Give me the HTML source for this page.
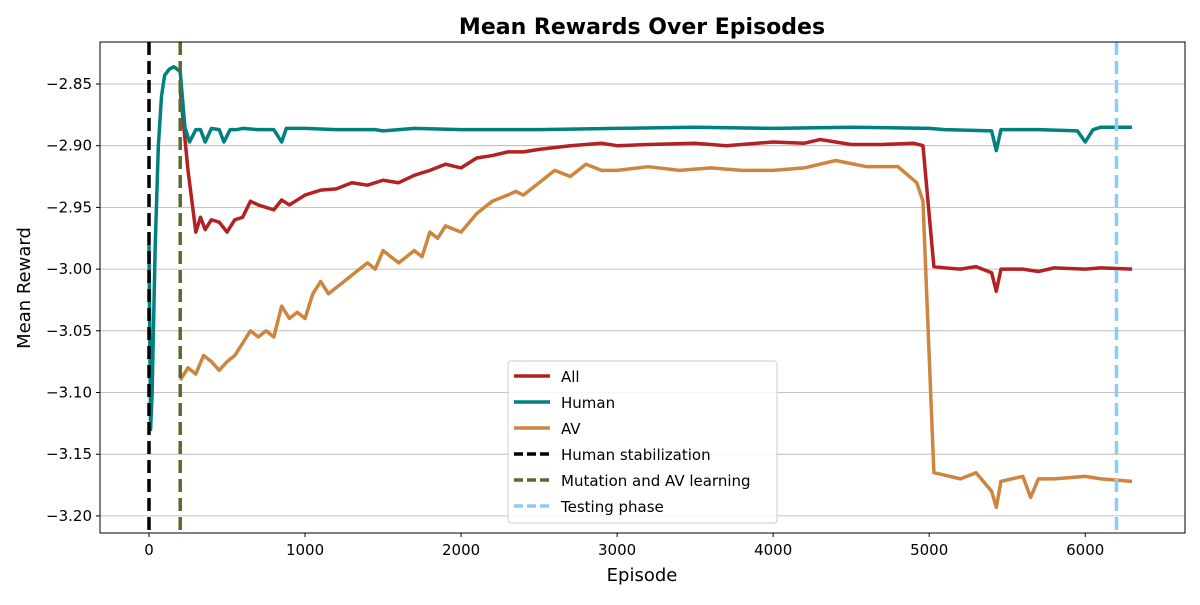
<!DOCTYPE html>
<html><head><meta charset="utf-8"><style>
body{margin:0;background:#fff;font-family:"Liberation Sans","DejaVu Sans",sans-serif}
svg text{font-family:"DejaVu Sans","Liberation Sans",sans-serif}
</style></head><body>
<svg id="chart" width="1200" height="600" xmlns="http://www.w3.org/2000/svg"></svg>
<script>
const xTicks=[0,1000,2000,3000,4000,5000,6000];
const yTicks=[-2.85,-2.90,-2.95,-3.00,-3.05,-3.10,-3.15,-3.20];
const humanEp=[0,10,20,40,60,80,100,130,160,200,230,260,300,330,360,400,450,480,520,560,600,700,800,850,880,950,1000,1200,1400,1450,1500,1700,2000,2500,3000,3500,4000,4500,5000,5100,5400,5430,5460,5500,5700,5950,6000,6050,6100,6300];
const humanVal=[-2.98,-3.13,-3.10,-2.98,-2.90,-2.86,-2.843,-2.838,-2.836,-2.84,-2.885,-2.897,-2.887,-2.887,-2.897,-2.886,-2.887,-2.897,-2.887,-2.887,-2.886,-2.887,-2.887,-2.897,-2.886,-2.886,-2.886,-2.887,-2.887,-2.887,-2.888,-2.886,-2.887,-2.887,-2.886,-2.885,-2.886,-2.885,-2.886,-2.887,-2.888,-2.904,-2.887,-2.887,-2.887,-2.888,-2.897,-2.887,-2.885,-2.885];
const allEp=[200,250,300,330,360,400,450,500,550,600,650,700,800,850,900,1000,1100,1200,1300,1400,1500,1600,1700,1800,1900,2000,2100,2200,2300,2400,2500,2700,2900,3000,3200,3500,3700,4000,4200,4300,4500,4700,4900,4960,5030,5100,5200,5300,5400,5430,5460,5600,5700,5800,6000,6100,6300];
const allVal=[-2.855,-2.92,-2.97,-2.958,-2.968,-2.96,-2.962,-2.97,-2.96,-2.958,-2.945,-2.948,-2.952,-2.944,-2.948,-2.94,-2.936,-2.935,-2.93,-2.932,-2.928,-2.93,-2.924,-2.92,-2.915,-2.918,-2.91,-2.908,-2.905,-2.905,-2.903,-2.900,-2.898,-2.900,-2.899,-2.898,-2.900,-2.897,-2.898,-2.895,-2.899,-2.899,-2.898,-2.900,-2.998,-2.999,-3.000,-2.998,-3.003,-3.018,-3.00,-3.00,-3.002,-2.999,-3.000,-2.999,-3.000];
const avEp=[200,250,300,350,400,450,500,550,600,650,700,750,800,850,900,950,1000,1050,1100,1150,1200,1300,1400,1450,1500,1600,1700,1750,1800,1850,1900,2000,2100,2200,2300,2350,2400,2500,2600,2700,2800,2900,3000,3200,3400,3600,3800,4000,4200,4400,4600,4800,4920,4960,5030,5100,5200,5300,5400,5430,5460,5600,5650,5700,5800,6000,6100,6300];
const avVal=[-3.09,-3.08,-3.085,-3.07,-3.075,-3.082,-3.075,-3.07,-3.06,-3.05,-3.055,-3.05,-3.055,-3.03,-3.04,-3.035,-3.04,-3.02,-3.01,-3.02,-3.015,-3.005,-2.995,-3.00,-2.985,-2.995,-2.985,-2.99,-2.97,-2.975,-2.965,-2.97,-2.955,-2.945,-2.94,-2.937,-2.94,-2.93,-2.92,-2.925,-2.915,-2.92,-2.92,-2.917,-2.92,-2.918,-2.92,-2.92,-2.918,-2.912,-2.917,-2.917,-2.93,-2.945,-3.165,-3.167,-3.17,-3.165,-3.18,-3.193,-3.172,-3.168,-3.185,-3.17,-3.17,-3.168,-3.17,-3.172];
const L=100,R=1185,T=42,B=533;
const X=v=>149+v*0.15604;
const Y=v=>84+(-2.85-v)*1234;
const svg=document.getElementById('chart');const NS='http://www.w3.org/2000/svg';
function el(t,a,txt){const e=document.createElementNS(NS,t);for(const k in a)e.setAttribute(k,a[k]);if(txt!==undefined)e.textContent=txt;svg.appendChild(e);return e;}
for(const t of yTicks){
const g=el('line',{x1:L,x2:R,y1:Y(t),y2:Y(t),stroke:'#b0b0b0','stroke-width':0.8});


el('line',{x1:L-4,x2:L,y1:Y(t),y2:Y(t),stroke:'#000'});
const lb=el('text',{x:L-8,y:Y(t)+5,'text-anchor':'end','font-size':15},t.toFixed(2).replace('-','\u2212'));


}
for(const t of xTicks){
el('line',{x1:X(t),x2:X(t),y1:B,y2:B+4,stroke:'#000'});
const lb=el('text',{x:X(t),y:B+22,'text-anchor':'middle','font-size':15},t);


}
function line(ep,val,color,name){
const p=el('polyline',{points:ep.map((e,i)=>X(e)+','+Y(val[i])).join(' '),fill:'none',stroke:color,'stroke-width':3.5,'stroke-linejoin':'round'});


}
line(allEp,allVal,'#b22222','series-all');
line(humanEp,humanVal,'#008080','series-human');
line(avEp,avVal,'#cd853f','series-av');
function vline(x,color,name){
const v=el('line',{x1:X(x),x2:X(x),y1:T,y2:B,stroke:color,'stroke-width':3.5,'stroke-dasharray':'13,6'});


}
vline(0,'#000','human-stabilization-line');
vline(200,'#556b2f','mutation-line');
vline(6200,'#87cefa','testing-phase-line');
const f=el('rect',{x:L,y:T,width:R-L,height:B-T,fill:'none',stroke:'#000','stroke-width':1});


const tt=el('text',{x:642,y:34,'text-anchor':'middle','font-size':22,'font-weight':'bold'},'Mean Rewards Over Episodes');


const xt=el('text',{x:642,y:581,'text-anchor':'middle','font-size':18},'Episode');


const yt=el('text',{x:30,y:288,'text-anchor':'middle','font-size':18,transform:'rotate(-90 30 288)'},'Mean Reward');


const lg=el('rect',{x:508,y:361,width:269,height:162,fill:'#fff',stroke:'#ccc',rx:3,'fill-opacity':0.85});


const items=[['All','#b22222',''],['Human','#008080',''],['AV','#cd853f',''],['Human stabilization','#000','9,4'],['Mutation and AV learning','#556b2f','9,4'],['Testing phase','#87cefa','9,4']];
items.forEach((it,i)=>{const y=376+i*26;
el('line',{x1:514,x2:550,y1:y,y2:y,stroke:it[1],'stroke-width':3.5,'stroke-dasharray':it[2]||'none'});
const t=el('text',{x:561,y:y+6,'font-size':15},it[0]);


});
</script>
</body></html>
